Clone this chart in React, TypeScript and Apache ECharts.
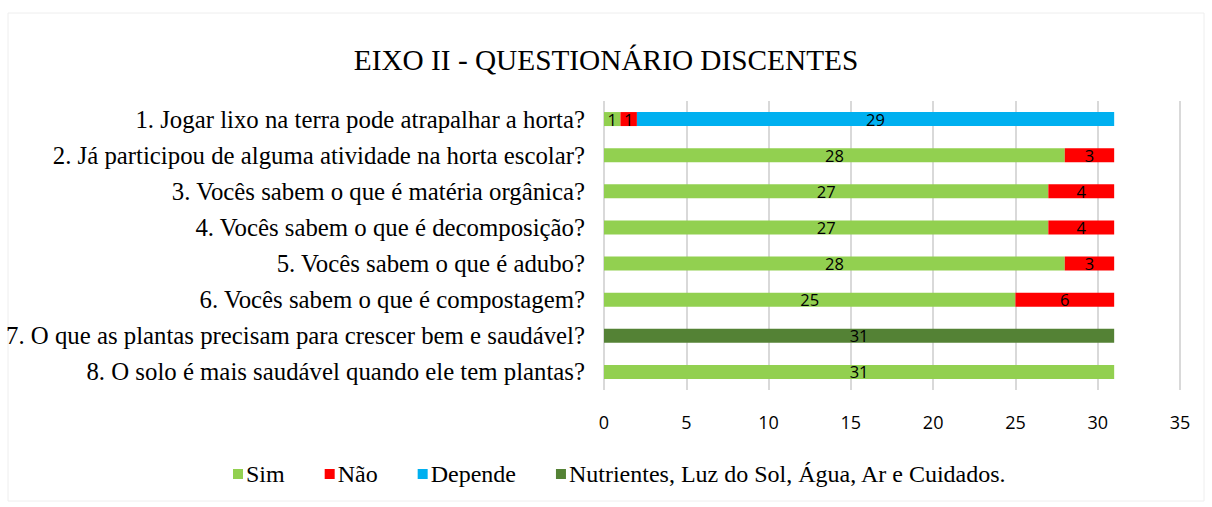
import React, { useEffect, useRef } from "react";
import * as echarts from "echarts";

const categories = [
  "1. Jogar lixo na terra pode atrapalhar a horta?",
  "2. Já participou de alguma atividade na horta escolar?",
  "3. Vocês sabem o que é matéria orgânica?",
  "4. Vocês sabem o que é decomposição?",
  "5. Vocês sabem o que é adubo?",
  "6. Vocês sabem o que é compostagem?",
  "7. O que as plantas precisam para crescer bem e saudável?",
  "8. O solo é mais saudável quando ele tem plantas?",
];
const sim = [1, 28, 27, 27, 28, 25, null, 31];
const nao = [1, 3, 4, 4, 3, 6, null, null];
const depende = [29, null, null, null, null, null, null, null];
const nutrientes = [null, null, null, null, null, null, 31, null];
const seriesNames = ["Sim", "Não", "Depende", "Nutrientes, Luz do Sol, Água, Ar e Cuidados."];
const colors = ["#92D050", "#FF0000", "#00B0F0", "#548235"];

export default function App() {
  const ref = useRef<HTMLDivElement>(null);
  useEffect(() => {
    const chart = echarts.init(ref.current!, null, { renderer: "svg" });
    const dataSets = [sim, nao, depende, nutrientes];
    chart.setOption({
      animation: false,
      backgroundColor: "#ffffff",
      title: {
        text: "EIXO II - QUESTIONÁRIO DISCENTES",
        left: "center",
        top: 40,
        textStyle: { fontFamily: "Liberation Serif", fontSize: 29.3, fontWeight: "normal", color: "#000" },
      },
      legend: {
        top: 457,
        left: 228,
        itemWidth: 10,
        itemHeight: 10,
        itemGap: 40,
        icon: "rect",
        textStyle: { fontFamily: "Liberation Serif", fontSize: 24, color: "#000", padding: [0, 0, 0, -2] },
        data: seriesNames,
      },
      grid: { left: 604, right: 32, top: 101, bottom: 117, containLabel: false },
      xAxis: {
        type: "value",
        min: 0,
        max: 35,
        interval: 5,
        axisLine: { show: false },
        axisTick: { show: false },
        splitLine: { lineStyle: { color: "#D9D9D9", width: 2 } },
        axisLabel: { fontFamily: "Open Sans", fontSize: 18, color: "#000", margin: 23 },
      },
      yAxis: {
        type: "category",
        inverse: true,
        data: categories,
        axisLine: { show: false },
        axisTick: { show: false },
        axisLabel: { fontFamily: "Liberation Serif", fontSize: 24.8, color: "#000", margin: 19 },
      },
      series: dataSets.map((d, i) => ({
        name: seriesNames[i],
        type: "bar",
        stack: "total",
        data: d,
        barWidth: 14,
        itemStyle: { color: colors[i] },
        label: {
          show: true,
          position: "inside",
          fontFamily: "Open Sans",
          fontSize: 16.5,
          color: "#000",
        },
      })),
      graphic: [
        {
          type: "rect",
          shape: { x: 8, y: 13, width: 1196, height: 488 },
          style: { fill: "none", stroke: "#EEEEEE", lineWidth: 1 },
          silent: true,
        },
      ],
    });
    return () => chart.dispose();
  }, []);
  return (
    <div
      ref={ref}
      style={{ position: "fixed", left: 0, top: 0, width: 1212, height: 507 }}
    />
  );
}
